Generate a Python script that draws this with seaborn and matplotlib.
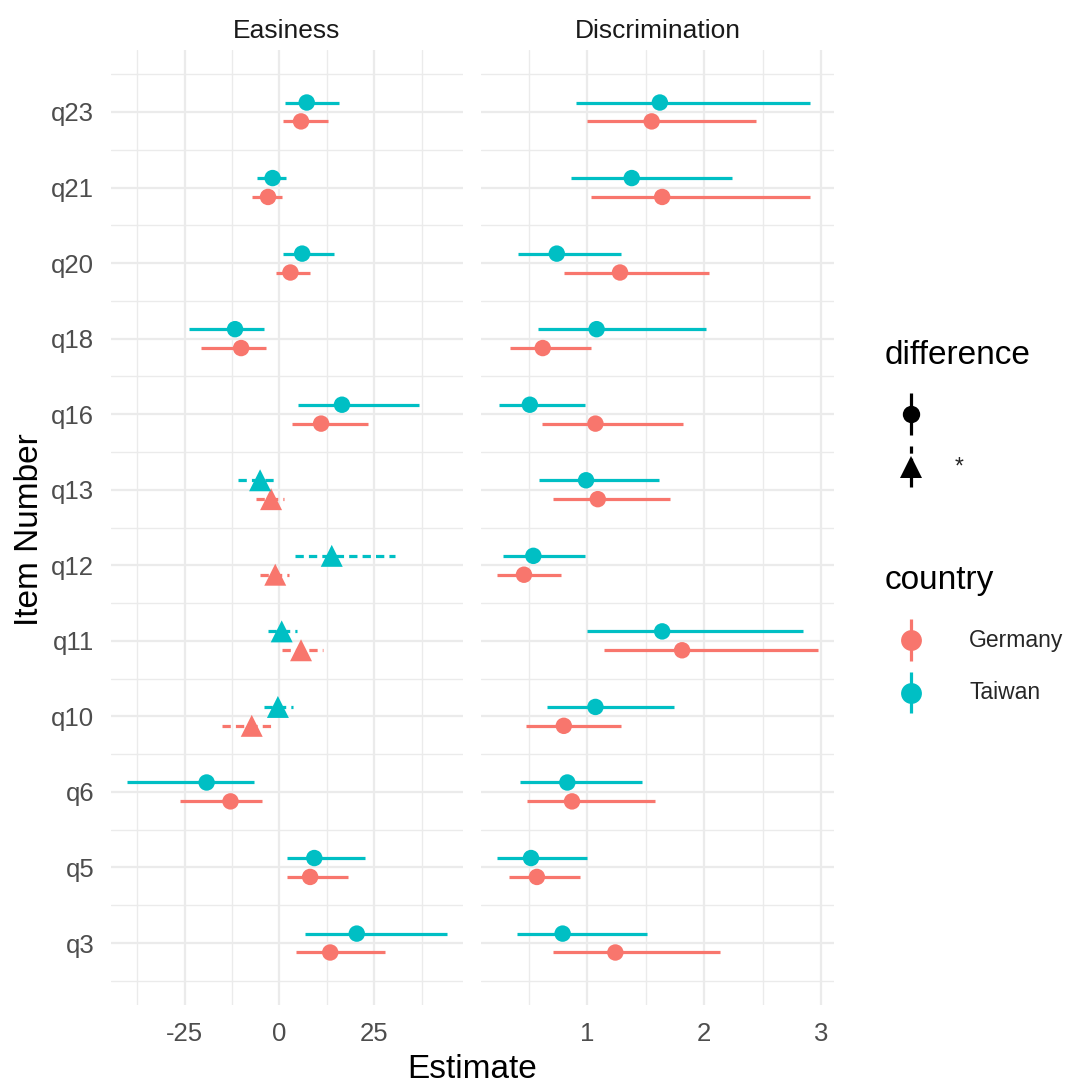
import numpy as np
import pandas as pd
import matplotlib
matplotlib.use("Agg")
import matplotlib.pyplot as plt
import seaborn as sns
from matplotlib.lines import Line2D
from matplotlib.legend_handler import HandlerBase

# ---------------- data ----------------
items = ["q3", "q5", "q6", "q10", "q11", "q12", "q13", "q16", "q18", "q20", "q21", "q23"]
countries = ["Germany", "Taiwan"]
palette = {"Germany": "#F8766D", "Taiwan": "#00BFC4"}

easy_ger_est = [13.4, 8.1, -12.9, -7.3, 5.7, -1.1, -2.2, 11.0, -10.1, 2.9, -3.0, 5.7]
easy_ger_lo = [4.4, 1.9, -26.1, -15.2, 0.7, -5.0, -6.3, 3.3, -20.7, -0.9, -7.3, 0.9]
easy_ger_hi = [27.9, 18.2, -4.7, -2.2, 11.6, 2.6, 1.3, 23.3, -3.5, 8.1, 0.7, 12.8]
easy_tw_est = [20.4, 9.2, -19.2, -0.4, 0.6, 13.8, -5.1, 16.5, -11.7, 6.0, -1.8, 7.2]
easy_tw_lo = [6.8, 1.9, -40.2, -4.1, -3.1, 4.1, -11.0, 4.8, -23.9, 0.9, -5.9, 1.6]
easy_tw_hi = [44.2, 22.6, -6.8, 3.5, 4.6, 30.6, -0.9, 36.8, -4.1, 14.5, 1.8, 15.8]
easy_diff = ["", "", "", "*", "*", "*", "*", "", "", "", "", ""]

disc_ger_est = [1.24, 0.57, 0.87, 0.80, 1.81, 0.46, 1.09, 1.07, 0.62, 1.28, 1.64, 1.55]
disc_ger_lo = [0.71, 0.33, 0.49, 0.48, 1.14, 0.23, 0.71, 0.61, 0.34, 0.80, 1.03, 1.00]
disc_ger_hi = [2.13, 0.94, 1.58, 1.29, 2.97, 0.78, 1.71, 1.82, 1.03, 2.04, 2.90, 2.44]
disc_tw_est = [0.79, 0.52, 0.83, 1.07, 1.64, 0.54, 0.99, 0.51, 1.08, 0.74, 1.38, 1.62]
disc_tw_lo = [0.40, 0.23, 0.43, 0.66, 1.00, 0.28, 0.59, 0.25, 0.58, 0.41, 0.86, 0.90]
disc_tw_hi = [1.51, 1.00, 1.47, 1.74, 2.84, 0.98, 1.61, 0.98, 2.01, 1.29, 2.24, 2.90]
disc_diff = [""] * 12

panels = ["Easiness", "Discrimination"]
x_major = {"Easiness": [-25, 0, 25], "Discrimination": [1, 2, 3]}
x_minor = {"Easiness": [-37.5, -12.5, 12.5, 37.5], "Discrimination": [0.5, 1.5, 2.5]}

rows = []
for param, ge, gl, gh, te, tl, th, dif in [
    ("Easiness", easy_ger_est, easy_ger_lo, easy_ger_hi, easy_tw_est, easy_tw_lo, easy_tw_hi, easy_diff),
    ("Discrimination", disc_ger_est, disc_ger_lo, disc_ger_hi, disc_tw_est, disc_tw_lo, disc_tw_hi, disc_diff),
]:
    for i, it in enumerate(items):
        rows.append(dict(param=param, item=it, idx=i, country="Germany", est=ge[i], lo=gl[i], hi=gh[i], difference=dif[i]))
        rows.append(dict(param=param, item=it, idx=i, country="Taiwan", est=te[i], lo=tl[i], hi=th[i], difference=dif[i]))
df = pd.DataFrame(rows)
dodge = {"Germany": -0.125, "Taiwan": 0.125}
df["ypos"] = df["idx"] + df["country"].map(dodge)

# ---------------- style ----------------
sns.set_theme(style="white")
plt.rcParams["font.family"] = ["Liberation Sans", "DejaVu Sans"]
plt.rcParams["axes.unicode_minus"] = False

W, H = 1068, 1086
fig = plt.figure(figsize=(W / 100, H / 100), dpi=100)
top_px, bot_px = 50, 1005
ax_pos = {"Easiness": (111, 463), "Discrimination": (481, 834)}
axes = {}
for p in panels:
    l, r = ax_pos[p]
    axes[p] = fig.add_axes([l / W, 1 - bot_px / H, (r - l) / W, (bot_px - top_px) / H])

grid_col = "#EBEBEB"
dash = (0, (2.6, 1.6))
for p in panels:
    ax = axes[p]
    sub = df[df["param"] == p]
    # error bars
    for _, r in sub.iterrows():
        ls = dash if r["difference"] == "*" else "-"
        ax.plot([r["lo"], r["hi"]], [r["ypos"], r["ypos"]], color=palette[r["country"]],
                lw=2.3, ls=ls, solid_capstyle="butt", dash_capstyle="butt", zorder=3)
    circ = sub[sub["difference"] == ""]
    tri = sub[sub["difference"] == "*"]
    if len(circ):
        sns.scatterplot(data=circ, x="est", y="ypos", hue="country", hue_order=countries,
                        palette=palette, marker="o", s=140, linewidth=0, legend=False, ax=ax, zorder=4)
    if len(tri):
        sns.scatterplot(data=tri, x="est", y="ypos", hue="country", hue_order=countries,
                        palette=palette, marker="^", s=250, linewidth=0, legend=False, ax=ax, zorder=4)
    lo_all, hi_all = sub["lo"].min(), sub["hi"].max()
    ext = (hi_all - lo_all) * 0.05
    ax.set_xlim(lo_all - ext, hi_all + ext)
    ax.set_ylim(-0.82, len(items) - 1 + 0.82)
    ax.set_xticks(x_major[p])
    ax.set_xticks(x_minor[p], minor=True)
    ax.set_yticks(range(len(items)))
    ax.set_yticks(np.arange(-0.5, len(items), 1.0), minor=True)
    ax.grid(which="major", color=grid_col, lw=1.6)
    ax.grid(which="minor", color=grid_col, lw=1.0)
    ax.set_axisbelow(True)
    for s in ax.spines.values():
        s.set_visible(False)
    ax.tick_params(which="both", length=0)
    ax.tick_params(axis="x", labelsize=18.5, labelcolor="#4D4D4D", pad=12)
    ax.set_xlabel("")
    ax.set_ylabel("")
    ax.set_title(p, fontsize=19, color="#1A1A1A", pad=9)
    ax.set_facecolor("white")

axes["Easiness"].set_yticklabels(items)
axes["Easiness"].tick_params(axis="y", labelsize=18.5, labelcolor="#4D4D4D", pad=12)
axes["Discrimination"].tick_params(axis="y", labelleft=False)

fig.text(472.5 / W, 1 - 1069 / H, "Estimate", ha="center", va="center", fontsize=24, color="black")
fig.text(30 / W, 1 - 530 / H, "Item Number", ha="center", va="center", rotation=90, fontsize=24, color="black")


# ---------------- legends ----------------
class PointRangeHandler(HandlerBase):
    def create_artists(self, legend, orig_handle, xdescent, ydescent, width, height, fontsize, trans):
        cx = 0.5 * width - xdescent
        cy = 0.5 * height - ydescent
        half = 15.0
        line = Line2D([cx, cx], [cy - half, cy + half], color=orig_handle.get_color(),
                      lw=orig_handle.get_linewidth(), ls=orig_handle.get_linestyle(),
                      solid_capstyle="butt", dash_capstyle="butt", transform=trans)
        mk = Line2D([cx], [cy], marker=orig_handle.get_marker(), markersize=orig_handle.get_markersize(),
                    color=orig_handle.get_color(), markeredgewidth=0, ls="none", transform=trans)
        return [line, mk]


diff_handles = [
    Line2D([], [], color="black", marker="o", markersize=12.5, lw=2.3, ls="-"),
    Line2D([], [], color="black", marker="^", markersize=16.5, lw=2.3, ls=dash),
]
country_handles = [
    Line2D([], [], color=palette[c], marker="o", markersize=15, lw=2.3, ls="-") for c in countries
]
common = dict(loc="upper left", frameon=False, fontsize=16.5,
              handler_map={Line2D: PointRangeHandler()}, handlelength=2.0, handleheight=2.6,
              labelspacing=0.35, borderpad=0, borderaxespad=0)

fig.text(885 / W, 1 - 356 / H, "difference", ha="left", va="center", fontsize=24, color="black")
fig.text(885 / W, 1 - 580 / H, "country", ha="left", va="center", fontsize=24, color="black")

leg1 = fig.legend(diff_handles, ["", "*"], handletextpad=0.93,
                  bbox_to_anchor=(888 / W, 1 - 392 / H), **common)
leg2 = fig.legend(country_handles, countries, handletextpad=1.55,
                  bbox_to_anchor=(888 / W, 1 - 618 / H), **common)

fig.savefig("out.png", dpi=100, facecolor="white")
